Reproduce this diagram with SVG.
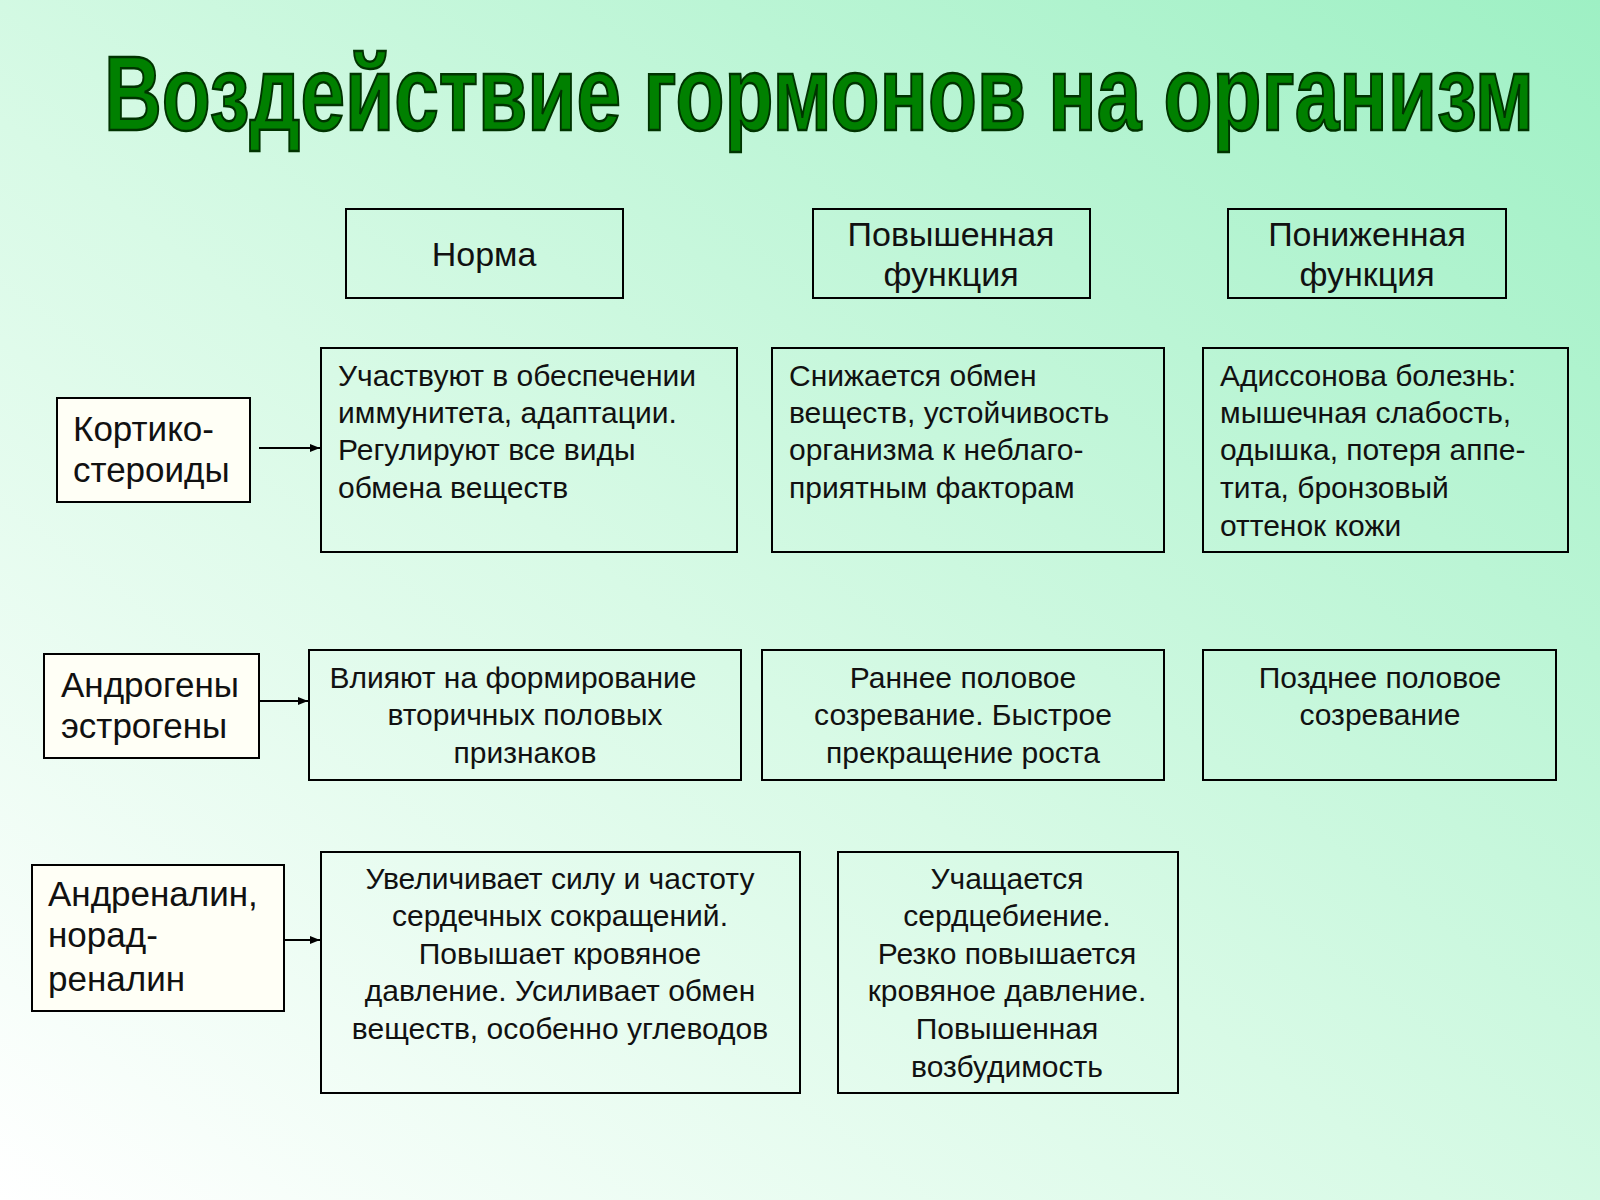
<svg xmlns="http://www.w3.org/2000/svg" width="1600" height="1200" viewBox="0 0 1600 1200">
<defs>
<linearGradient id="bg" x1="1" y1="0" x2="0" y2="1">
<stop offset="0" stop-color="#9ef0c4"/>
<stop offset="0.55" stop-color="#d8fae6"/>
<stop offset="1" stop-color="#ffffff"/>
</linearGradient>
<marker id="ar" markerWidth="10" markerHeight="8" refX="10" refY="4" orient="auto" markerUnits="userSpaceOnUse"><path d="M0,0 L10,4 L0,8 z" fill="#000"/></marker>
<style>
.b{fill:none;stroke:#000;stroke-width:2}
.w{fill:#fffff6;stroke:#000;stroke-width:2}
text{font-family:"Liberation Sans",Arial,sans-serif;fill:#111}
.t{font-size:30px}
.h{font-size:34px;text-anchor:middle}
.l{font-size:35px}
.m{text-anchor:middle}
.c{stroke:#000;stroke-width:2;marker-end:url(#ar)}
</style>
</defs>
<rect width="1600" height="1200" fill="url(#bg)"/>
<text x="819" y="130" text-anchor="middle" textLength="1430" lengthAdjust="spacingAndGlyphs" style="font-family:'Liberation Sans Narrow','Liberation Sans',sans-serif;font-weight:bold;font-size:106px;fill:#008000;stroke:#003300;stroke-width:2.5">Воздействие гормонов на организм</text>

<g id="h1"><rect class="b" x="346" y="209" width="277" height="89"/><text class="h" x="484" y="266">Норма</text></g>
<g id="h2"><rect class="b" x="813" y="209" width="277" height="89"/><text class="h" x="951" y="246">Повышенная</text><text class="h" x="951" y="286">функция</text></g>
<g id="h3"><rect class="b" x="1228" y="209" width="278" height="89"/><text class="h" x="1367" y="246">Пониженная</text><text class="h" x="1367" y="286">функция</text></g>

<g id="k"><rect class="w" x="57" y="398" width="193" height="104"/><text class="l" x="73" y="441">Кортико-</text><text class="l" x="73" y="482">стероиды</text></g>
<g id="k1"><rect class="b" x="321" y="348" width="416" height="204"/><text class="t"><tspan x="338" y="386">Участвуют в обеспечении</tspan><tspan x="338" y="423">иммунитета, адаптации.</tspan><tspan x="338" y="460">Регулируют все виды</tspan><tspan x="338" y="498">обмена веществ</tspan></text></g>
<g id="k2"><rect class="b" x="772" y="348" width="392" height="204"/><text class="t"><tspan x="789" y="386">Снижается обмен</tspan><tspan x="789" y="423">веществ, устойчивость</tspan><tspan x="789" y="460">организма к неблаго-</tspan><tspan x="789" y="498">приятным факторам</tspan></text></g>
<g id="k3"><rect class="b" x="1203" y="348" width="365" height="204"/><text class="t"><tspan x="1220" y="386">Адиссонова болезнь:</tspan><tspan x="1220" y="423">мышечная слабость,</tspan><tspan x="1220" y="460">одышка, потеря аппе-</tspan><tspan x="1220" y="498">тита, бронзовый</tspan><tspan x="1220" y="536">оттенок кожи</tspan></text></g>

<g id="a"><rect class="w" x="44" y="654" width="215" height="104"/><text class="l" x="61" y="697">Андрогены</text><text class="l" x="61" y="738">эстрогены</text></g>
<g id="a1"><rect class="b" x="309" y="650" width="432" height="130"/><text class="t m"><tspan x="513" y="688">Влияют на формирование</tspan><tspan x="525" y="725">вторичных половых</tspan><tspan x="525" y="763">признаков</tspan></text></g>
<g id="a2"><rect class="b" x="762" y="650" width="402" height="130"/><text class="t m"><tspan x="963" y="688">Раннее половое</tspan><tspan x="963" y="725">созревание. Быстрое</tspan><tspan x="963" y="763">прекращение роста</tspan></text></g>
<g id="a3"><rect class="b" x="1203" y="650" width="353" height="130"/><text class="t m"><tspan x="1380" y="688">Позднее половое</tspan><tspan x="1380" y="725">созревание</tspan></text></g>

<g id="n"><rect class="w" x="32" y="865" width="252" height="146"/><text class="l" x="48" y="906">Андреналин,</text><text class="l" x="48" y="947">норад-</text><text class="l" x="48" y="991">реналин</text></g>
<g id="n1"><rect class="b" x="321" y="852" width="479" height="241"/><text class="t m"><tspan x="560" y="889">Увеличивает силу и частоту</tspan><tspan x="560" y="926">сердечных сокращений.</tspan><tspan x="560" y="964">Повышает кровяное</tspan><tspan x="560" y="1001">давление. Усиливает обмен</tspan><tspan x="560" y="1039">веществ, особенно углеводов</tspan></text></g>
<g id="n2"><rect class="b" x="838" y="852" width="340" height="241"/><text class="t m"><tspan x="1007" y="889">Учащается</tspan><tspan x="1007" y="926">сердцебиение.</tspan><tspan x="1007" y="964">Резко повышается</tspan><tspan x="1007" y="1001">кровяное давление.</tspan><tspan x="1007" y="1039">Повышенная</tspan><tspan x="1007" y="1077">возбудимость</tspan></text></g>

<g id="connectors">
<line class="c" x1="259" y1="448" x2="320" y2="448"/>
<line class="c" x1="259" y1="701" x2="308" y2="701"/>
<line class="c" x1="284" y1="940" x2="320" y2="940"/>
</g>
</svg>
